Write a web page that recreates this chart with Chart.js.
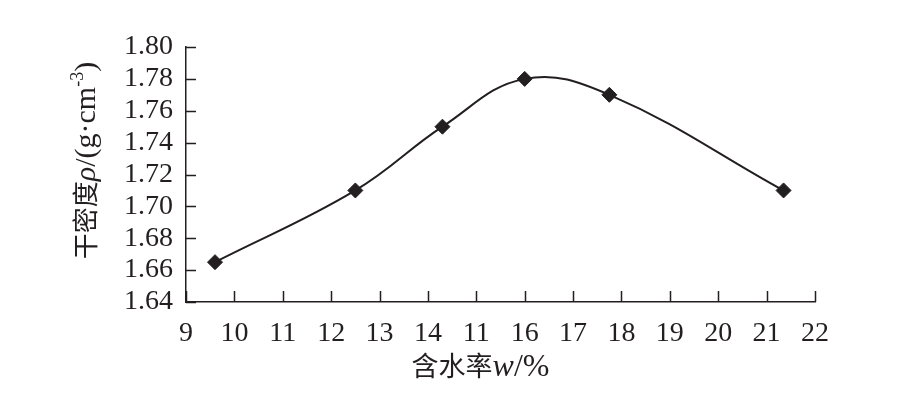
<!DOCTYPE html>
<html>
<head>
<meta charset="utf-8">
<script src="https://cdn.jsdelivr.net/npm/chart.js@4"></script>
<style>
  html, body { margin: 0; padding: 0; background: #ffffff; }
  #c { display: block; }
</style>
</head>
<body>
<canvas id="c" width="915" height="420"></canvas>
<script>
// ---- data ----
const waterContent = [9.6, 12.5, 14.3, 16.0, 17.75, 21.35];   // 含水率 w / %
const dryDensity   = [1.665, 1.71, 1.75, 1.78, 1.77, 1.71];   // 干密度 ρ / (g·cm-3)
const xTickLabels  = ['9','10','11','12','13','14','11','16','17','18','19','20','21','22'];
const xTickValues  = [9,10,11,12,13,14,15,16,17,18,19,20,21,22];
const yTickValues  = [1.64,1.66,1.68,1.70,1.72,1.74,1.76,1.78,1.80];

const INK = '#231f20';
const SERIF = '"Liberation Serif", "DejaVu Serif", serif';
const CJK = '"Noto Sans CJK SC", sans-serif';

// axis title pieces: [text, font, baseline shift]
const xTitleParts = [
  ['含水率', '27px ' + CJK, 0],
  ['w', 'italic 32px ' + SERIF, 0],
  ['/%', '32px ' + SERIF, 0]
];
const yTitleParts = [
  ['干密度', '26px ' + CJK, 0],
  ['ρ', 'italic 30px ' + SERIF, 0],
  ['/(g·cm', '30px ' + SERIF, 0],
  ['-3', '18px ' + SERIF, -12],
  [')', '30px ' + SERIF, 0]
];

const points = waterContent.map((x, i) => ({ x: x, y: dryDensity[i] }));

function drawParts(ctx, parts, cx, cy) {
  let total = 0;
  parts.forEach(p => { ctx.font = p[1]; total += ctx.measureText(p[0]).width; });
  let x = cx - total / 2;
  ctx.textBaseline = 'alphabetic';
  ctx.textAlign = 'left';
  parts.forEach(p => {
    ctx.font = p[1];
    ctx.fillText(p[0], x, cy + 10 + p[2]);
    x += ctx.measureText(p[0]).width;
  });
}

const axisDecor = {
  id: 'axisDecor',
  afterDraw(chart) {
    const { ctx, chartArea, scales } = chart;
    const x = scales.x, y = scales.y;
    ctx.save();
    ctx.strokeStyle = INK;
    ctx.lineWidth = 1.5;
    ctx.beginPath();
    x.ticks.forEach(t => {
      const px = Math.round(x.getPixelForValue(t.value)) + 0.5;
      ctx.moveTo(px, chartArea.bottom);
      ctx.lineTo(px, chartArea.bottom - 11);
    });
    y.ticks.forEach(t => {
      const py = Math.round(y.getPixelForValue(t.value)) + 0.5;
      ctx.moveTo(chartArea.left, py);
      ctx.lineTo(chartArea.left + 10, py);
    });
    ctx.stroke();

    ctx.fillStyle = INK;
    // x axis title
    drawParts(ctx, xTitleParts, (chartArea.left + chartArea.right) / 2 - 20, chartArea.bottom + 64);
    // y axis title (rotated)
    ctx.save();
    ctx.translate(chartArea.left - 101, (chartArea.top + chartArea.bottom) / 2 - 14);
    ctx.rotate(-Math.PI / 2);
    drawParts(ctx, yTitleParts, 0, 0);
    ctx.restore();
    ctx.restore();
  }
};

new Chart(document.getElementById('c'), {
  type: 'line',
  data: {
    datasets: [{
      data: points,
      borderColor: INK,
      borderWidth: 2,
      tension: 0.4,
      pointStyle: 'rectRot',
      pointRadius: 7.5,
      pointBackgroundColor: INK,
      pointBorderColor: INK,
      pointBorderWidth: 1,
      fill: false
    }]
  },
  options: {
    responsive: false,
    animation: false,
    events: [],
    layout: { padding: { top: 47, right: 100, left: 0, bottom: 0 } },
    plugins: { legend: { display: false }, tooltip: { enabled: false } },
    scales: {
      x: {
        type: 'linear',
        min: 9, max: 22,
        afterBuildTicks(scale) { scale.ticks = xTickValues.map(v => ({ value: v })); },
        afterFit(scale) { scale.height = 118; },
        grid: { display: false, drawTicks: false },
        border: { display: true, color: INK, width: 1.5 },
        ticks: {
          padding: 15,
          color: INK,
          font: { family: SERIF, size: 28 },
          maxRotation: 0,
          autoSkip: false,
          callback: (v) => { const i = xTickValues.indexOf(v); return i >= 0 ? xTickLabels[i] : ''; }
        },
        title: { display: false }
      },
      y: {
        type: 'linear',
        min: 1.64, max: 1.80,
        afterBuildTicks(scale) { scale.ticks = yTickValues.map(v => ({ value: v })); },
        afterFit(scale) { scale.width = 186; },
        grid: { display: false, drawTicks: false },
        border: { display: true, color: INK, width: 1.5 },
        ticks: {
          padding: 13,
          color: INK,
          font: { family: SERIF, size: 28 },
          autoSkip: false,
          callback: (v) => Number(v).toFixed(2)
        },
        title: { display: false }
      }
    }
  },
  plugins: [axisDecor]
});
</script>
</body>
</html>
